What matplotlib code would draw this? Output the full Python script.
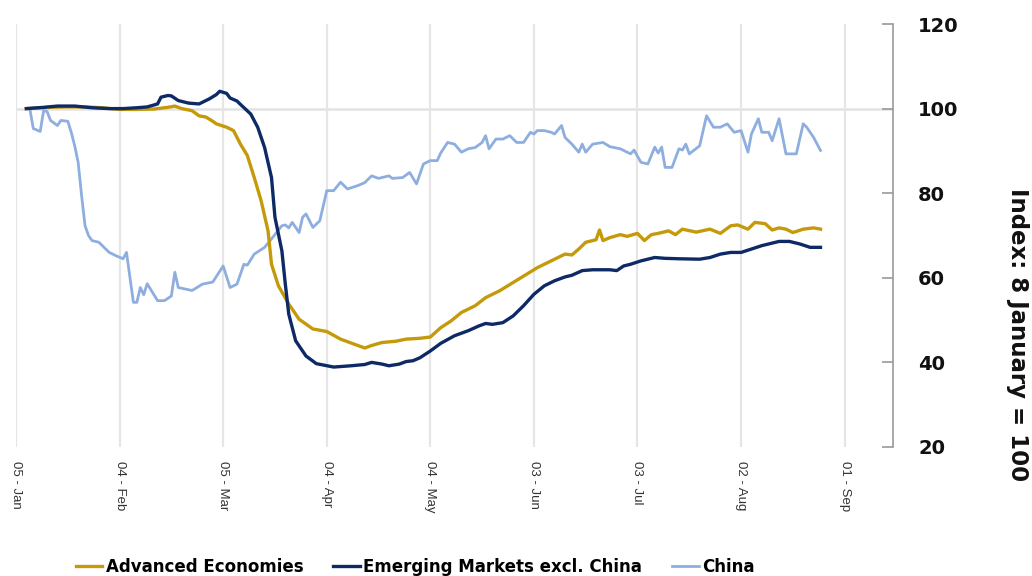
import pandas as pd
import matplotlib
matplotlib.use('Agg')
import matplotlib.pyplot as plt
import matplotlib.dates as mdates

plt.rcParams['font.family'] = ['Liberation Sans', 'DejaVu Sans']

# days counted from 5 January 2020
start = pd.Timestamp('2020-01-05')

adv_days = [3, 10, 15, 20, 25, 30, 35, 40, 44, 46, 48, 51, 53, 55, 57, 58, 61, 63, 65, 67,
            69, 71, 73, 74, 76, 79, 82, 86, 90, 94, 98, 101, 103, 106, 110, 113, 117, 120,
            123, 126, 129, 133, 136, 140, 144, 148, 151, 155, 159, 161, 163, 165, 168, 169,
            170, 172, 175, 177, 180, 182, 184, 186, 189, 191, 193, 197, 201, 204, 207, 209,
            212, 214, 217, 219, 221, 223, 225, 228, 231, 233]
adv_vals = [100, 100.3, 100.4, 100.4, 100.2, 99.8, 99.8, 99.9, 100.3, 100.6, 100, 99.5, 98.3,
            98, 97, 96.4, 95.6, 94.8, 91.6, 88.9, 83.7, 78.2, 71.1, 63.2, 58.1, 53.8, 50.2,
            47.9, 47.3, 45.5, 44.3, 43.4, 44, 44.7, 45, 45.5, 45.7, 46, 48.2, 49.8, 51.8, 53.4,
            55.3, 56.9, 58.9, 60.9, 62.4, 64, 65.6, 65.4, 66.8, 68.4, 69, 71.3, 68.8, 69.5,
            70.2, 69.8, 70.5, 68.8, 70.2, 70.5, 71.1, 70.2, 71.5, 70.8, 71.5, 70.5, 72.3, 72.5,
            71.5, 73.1, 72.8, 71.3, 71.8, 71.5, 70.7, 71.5, 71.8, 71.5]

em_days = [3, 8, 12, 17, 22, 27, 31, 35, 38, 41, 42, 44, 45, 47, 50, 53, 56, 58, 59, 61, 62,
           64, 65, 68, 70, 72, 74, 75, 77, 78, 79, 81, 84, 87, 92, 97, 101, 103, 106, 108,
           111, 113, 115, 117, 120, 123, 127, 131, 134, 136, 138, 141, 144, 147, 150, 153,
           156, 159, 161, 164, 167, 172, 174, 176, 178, 181, 185, 188, 192, 198, 201, 204,
           207, 210, 213, 216, 219, 221, 224, 227, 230, 233]
em_vals = [100, 100.3, 100.6, 100.6, 100.2, 100, 100, 100.2, 100.4, 101.1, 102.7, 103.1, 103,
           101.9, 101.3, 101.1, 102.3, 103.3, 104.1, 103.6, 102.5, 101.8, 101, 98.7, 95.6,
           90.8, 83.7, 74.3, 66.4, 58.5, 51.4, 45.1, 41.5, 39.7, 38.9, 39.2, 39.5, 40, 39.6,
           39.2, 39.6, 40.2, 40.4, 41.1, 42.7, 44.5, 46.3, 47.5, 48.6, 49.2, 49, 49.4, 51,
           53.4, 56.1, 58.1, 59.3, 60.2, 60.6, 61.7, 61.9, 61.9, 61.7, 62.8, 63.2, 64, 64.8,
           64.6, 64.5, 64.4, 64.8, 65.6, 66, 66, 66.8, 67.6, 68.2, 68.6, 68.6, 68, 67.2, 67.2]

china_days = [3, 4, 5, 7, 8, 9, 10, 12, 13, 15, 16, 17, 18, 19, 20, 21, 22, 24, 27, 29, 31, 32,
              34, 35, 36, 37, 38, 41, 43, 45, 46, 47, 51, 54, 57, 60, 62, 64, 66, 67, 69, 72,
              74, 77, 78, 79, 80, 82, 83, 84, 86, 88, 90, 92, 94, 96, 99, 101, 103, 105, 108,
              109, 112, 114, 116, 118, 120, 122, 123, 125, 127, 129, 131, 133, 135, 136, 137,
              139, 141, 143, 145, 147, 149, 150, 151, 153, 155, 156, 158, 159, 161, 163, 164,
              165, 167, 170, 172, 175, 178, 179, 181, 183, 185, 186, 187, 188, 190, 192, 193,
              194, 195, 198, 200, 202, 204, 206, 208, 210, 212, 213, 215, 216, 218, 219, 221,
              223, 226, 228, 229, 231, 233]
china_vals = [100, 100, 95.3, 94.6, 99.5, 99.3, 97.2, 96, 97.2, 97, 94.4, 91.2, 87.3, 79.4,
              72.3, 70, 68.8, 68.4, 66, 65.2, 64.5, 66, 54.2, 54.2, 57.7, 56, 58.6, 54.6, 54.6,
              55.7, 61.3, 57.7, 57, 58.5, 59, 62.8, 57.7, 58.5, 63.2, 63, 65.6, 67.2, 69.2,
              72.3, 72.5, 71.8, 73.1, 70.7, 74.3, 75.1, 71.9, 73.5, 80.6, 80.6, 82.6, 81, 81.8,
              82.5, 84.1, 83.5, 84.1, 83.5, 83.7, 84.9, 82.2, 86.9, 87.7, 87.7, 89.5, 92, 91.6,
              89.7, 90.5, 90.8, 92, 93.6, 90.5, 92.8, 92.8, 93.6, 92, 92, 94.4, 94, 94.8, 94.8,
              94.4, 94, 96, 93.2, 91.6, 89.7, 91.6, 89.7, 91.6, 92, 91, 90.5, 89.3, 90.2, 87.3,
              86.9, 90.9, 89.5, 90.9, 86.1, 86.1, 90.5, 90.2, 91.6, 89.3, 91.2, 98.3, 95.6,
              95.6, 96.4, 94.4, 94.8, 89.7, 94, 97.6, 94.4, 94.4, 92.4, 97.6, 89.3, 89.3, 96.4,
              95.6, 93.2, 90.1]

tick_dates = ['2020-01-05', '2020-02-04', '2020-03-05', '2020-04-04', '2020-05-04',
              '2020-06-03', '2020-07-03', '2020-08-02', '2020-09-01']
y_ticks = [20, 40, 60, 80, 100, 120]


def to_dates(days):
    return start + pd.to_timedelta(days, unit='D')


fig = plt.figure(figsize=(10.32, 5.76), dpi=100)
ax = fig.add_axes([16 / 1032, 1 - 447 / 576, (893 - 16) / 1032, 423 / 576])

ax.axhline(100, color='#e3e3e3', lw=1.8, zorder=0)
for t in tick_dates:
    ax.axvline(pd.Timestamp(t), color='#e6e6e6', lw=1.6, zorder=0)

ax.plot(to_dates(china_days), china_vals, color='#8eaee0', lw=2.0, label='China', zorder=2)
ax.plot(to_dates(adv_days), adv_vals, color='#c59a0a', lw=2.4,
        label='Advanced Economies', zorder=3)
ax.plot(to_dates(em_days), em_vals, color='#0e2a66', lw=2.4,
        label='Emerging Markets excl. China', zorder=4)

ax.set_xlim(pd.Timestamp('2020-01-05'), pd.Timestamp('2020-09-15'))
ax.set_ylim(20, 120)

ax.set_xticks([pd.Timestamp(t) for t in tick_dates])
ax.xaxis.set_major_formatter(mdates.DateFormatter('%d - %b'))
ax.tick_params(axis='x', length=0, pad=10, labelsize=9.5, labelcolor='#333333',
               labelrotation=270)

ax.yaxis.tick_right()
ax.set_yticks(y_ticks)
ax.tick_params(axis='y', direction='in', length=8, color='#999999', width=1.2,
               pad=18, labelsize=14, labelcolor='#111111')
for lab in ax.get_yticklabels():
    lab.set_fontweight('bold')
    lab.set_family('DejaVu Sans')

for s in ['left', 'top', 'bottom']:
    ax.spines[s].set_visible(False)
ax.spines['right'].set_color('#999999')
ax.spines['right'].set_linewidth(1.2)

fig.text(1018 / 1032, 1 - 335 / 576, 'Index: 8 January = 100', rotation=270,
         ha='center', va='center', fontsize=16.5, fontweight='bold', color='#111111',
         family='DejaVu Sans')

handles, labels = ax.get_legend_handles_labels()
order = [1, 2, 0]
fig.legend([handles[i] for i in order], [labels[i] for i in order],
           loc='center', bbox_to_anchor=(415 / 1032, 1 - 567 / 576), ncol=3,
           frameon=False, handlelength=1.6, handletextpad=0.2, columnspacing=1.8,
           prop={'weight': 'bold', 'size': 12, 'family': 'DejaVu Sans'})

fig.savefig('out.png', dpi=100)
